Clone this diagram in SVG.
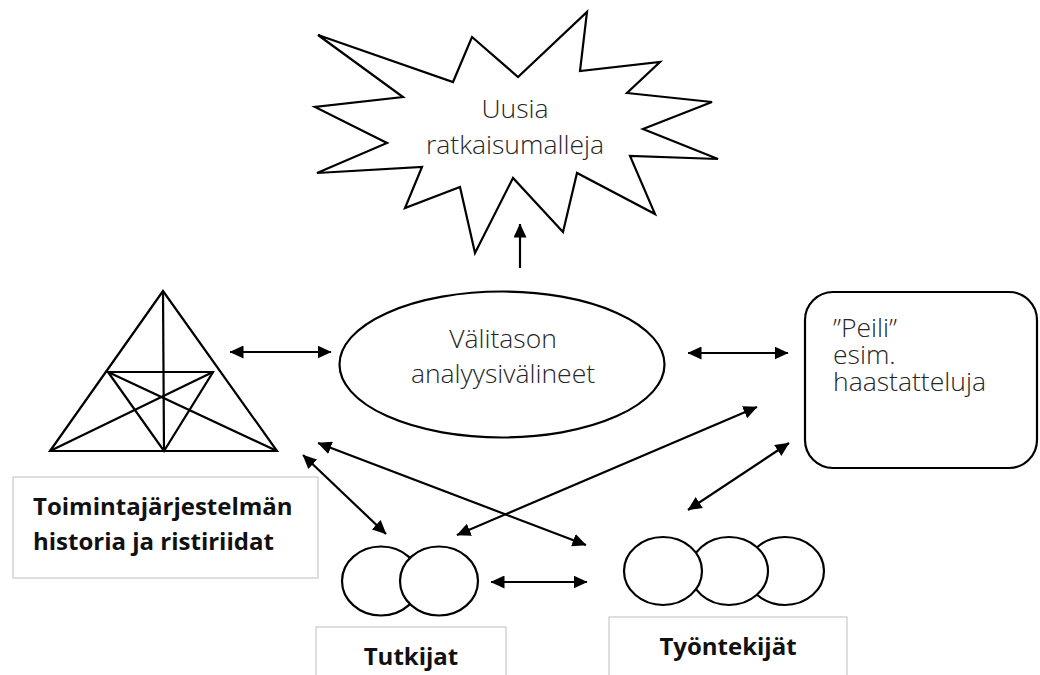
<svg xmlns="http://www.w3.org/2000/svg" width="1040" height="675" viewBox="0 0 1040 675">
  <style>
    .shape { fill: #fff; stroke: #000; stroke-width: 2.2; stroke-linejoin: miter; }
    .line { fill: none; stroke: #000; stroke-width: 2.2; }
    .conn { fill: none; stroke: #000; stroke-width: 2.2; marker-end: url(#head); }
    .both { marker-start: url(#head); }
    .label { fill: #fff; stroke: #bfbfbf; stroke-width: 1; }
    .light { font-family: "Open Sans", "Liberation Sans", sans-serif; font-weight: 300; font-size: 26.5px; fill: #262626; }
    .bold { font-family: "Open Sans", "Liberation Sans", sans-serif; font-weight: 700; font-size: 24px; fill: #111; }
  </style>
  <defs>
    <marker id="head" viewBox="0 0 14 13" refX="13.5" refY="6.5" markerWidth="14" markerHeight="13" markerUnits="userSpaceOnUse" orient="auto-start-reverse">
      <path d="M0,0 L14,6.5 L0,13 z" fill="#000"/>
    </marker>
  </defs>
  <rect width="1040" height="675" fill="#fff"/>

  <!-- outcome: burst shape -->
  <g id="uusia">
    <polygon class="shape" stroke-width="2.5" points="318,35 453,82 472,37 518,77 587,12 580,71 660,62 627,93 712,102 643,129 718,159 630,156 655,214 577,173 563,232 513,178 475,253 460,187 405,208 422,167 317,173 387,143 315,107 403,97"/>
    <text class="light" font-size="27.5" x="515" y="118" text-anchor="middle">Uusia</text>
    <text class="light" font-size="27.5" x="515" y="154" text-anchor="middle">ratkaisumalleja</text>
  </g>

  <!-- activity-system triangle -->
  <g id="kolmio">
    <polygon class="line" points="163,291 50,451 277,451"/>
    <line class="line" x1="163" y1="291" x2="164" y2="451"/>
    <polygon class="line" points="108,372 213,372 164,451"/>
    <line class="line" x1="50" y1="451" x2="213" y2="372"/>
    <line class="line" x1="277" y1="451" x2="108" y2="372"/>
  </g>

  <g id="toimintajarjestelma">
    <rect class="label" x="13" y="477" width="305" height="101"/>
    <text class="bold" x="33" y="515">Toimintajärjestelmän</text>
    <text class="bold" x="33" y="550">historia ja ristiriidat</text>
  </g>

  <!-- mid-level analysis tools -->
  <g id="valitaso">
    <ellipse class="shape" cx="502" cy="364.5" rx="162.5" ry="73"/>
    <text class="light" x="503" y="348" text-anchor="middle">Välitason</text>
    <text class="light" x="503" y="383" text-anchor="middle">analyysivälineet</text>
  </g>

  <g id="peili">
    <rect class="shape" x="805" y="292" width="232" height="176" rx="28" ry="28"/>
    <text class="light" x="833" y="337">”Peili”</text>
    <text class="light" x="833" y="364">esim.</text>
    <text class="light" x="833" y="391">haastatteluja</text>
  </g>

  <g id="tutkijat">
    <ellipse class="shape" cx="381" cy="581" rx="39" ry="34.5"/>
    <ellipse class="shape" cx="439" cy="581" rx="39" ry="34.5"/>
    <rect class="label" x="316" y="627" width="190" height="60"/>
    <text class="bold" x="411" y="665" text-anchor="middle">Tutkijat</text>
  </g>

  <g id="tyontekijat">
    <ellipse class="shape" cx="785" cy="571" rx="39" ry="34"/>
    <ellipse class="shape" cx="729" cy="571" rx="39" ry="34"/>
    <ellipse class="shape" cx="663" cy="571" rx="39" ry="34"/>
    <rect class="label" x="609" y="617" width="238" height="70"/>
    <text class="bold" x="728" y="655" text-anchor="middle">Työntekijät</text>
  </g>

  <!-- connectors -->
  <g id="connectors">
    <line class="conn" x1="520" y1="268" x2="520" y2="224"/>
    <line class="conn both" x1="230" y1="352" x2="331" y2="352"/>
    <line class="conn both" x1="688" y1="353" x2="788" y2="353"/>
    <line class="conn both" x1="318" y1="443" x2="586" y2="545"/>
    <line class="conn both" x1="303" y1="455" x2="386" y2="534"/>
    <line class="conn both" x1="457" y1="535" x2="757" y2="407"/>
    <line class="conn both" x1="688" y1="510" x2="789" y2="443"/>
    <line class="conn both" x1="491" y1="582" x2="587" y2="582"/>
  </g>
</svg>
